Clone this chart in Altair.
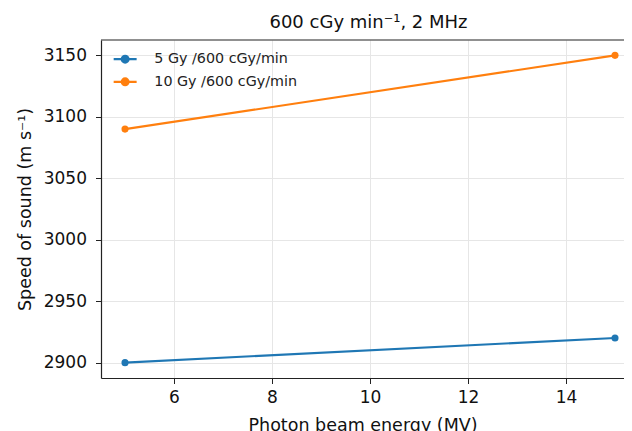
import altair as alt
import pandas as pd

energy = [5, 15]
series_names = ["5 Gy /600 cGy/min", "10 Gy /600 cGy/min"]
speed_5gy = [2900, 2920]
speed_10gy = [3090, 3150]
colors = ["#1f77b4", "#ff7f0e"]
x_ticks = [6, 8, 10, 12, 14]
y_ticks = [2900, 2950, 3000, 3050, 3100, 3150]

rows = []
for name, vals in zip(series_names, [speed_5gy, speed_10gy]):
    for e, v in zip(energy, vals):
        rows.append({"energy": e, "speed": v, "series": name})
df = pd.DataFrame(rows)

W, H = 523, 338
font = "DejaVu Sans"

x = alt.X("energy:Q",
          scale=alt.Scale(domain=[4.51, 4.51 + W / 49.0], nice=False, zero=False),
          axis=alt.Axis(values=x_ticks, title="Photon beam energy (MV)", format="d",
                        labelPadding=6, titlePadding=11))
y = alt.Y("speed:Q",
          scale=alt.Scale(domain=[2887.5, 3162.5], nice=False, zero=False),
          axis=alt.Axis(values=y_ticks, title="Speed of sound (m s⁻¹)", format="d",
                        labelPadding=9, titlePadding=9))
color = alt.Color("series:N",
                  scale=alt.Scale(domain=series_names, range=colors),
                  legend=alt.Legend(
                      title=None, orient="none", legendX=17, legendY=12,
                      symbolType="M-2,0L2,0M0.6,0A0.6,0.6,0,1,1,-0.6,0A0.6,0.6,0,1,1,0.6,0Z",
                      symbolSize=132, symbolStrokeWidth=2.1,
                      labelFontSize=14.3, labelFont=font, labelColor="#222",
                      rowPadding=6.7, labelOffset=22))

base = alt.Chart(df)
line = base.mark_line(strokeWidth=2.1).encode(x=x, y=y, color=color)
pts = base.mark_point(filled=True, size=50, opacity=1).encode(x=x, y=y, color=color)
top = alt.Chart(pd.DataFrame({"a": [0]})).mark_rule(color="#222", strokeWidth=1.2).encode(
    x=alt.value(0), x2=alt.value(W), y=alt.value(0))

chart = alt.layer(line, pts, top).properties(
    width=W, height=H,
    title=alt.Title("600 cGy min⁻¹, 2 MHz", fontSize=18, font=font, fontWeight="normal",
                    color="#111", dx=6, offset=7),
    autosize=alt.AutoSizeParams(type="none"),
    padding={"left": 93, "top": 32, "right": 0, "bottom": 53},
).configure_view(stroke=None).configure_axis(
    labelFont=font, titleFont=font, labelFontSize=17, titleFontSize=17.5,
    labelColor="#111", titleColor="#111", titleFontWeight="normal",
    grid=True, gridColor="#e6e6e6", gridWidth=1,
    domainColor="#222", domainWidth=1.2, tickColor="#222", tickSize=5.5, tickWidth=1,
)

chart.save("out.html", embed_options={"renderer": "svg", "actions": False})
